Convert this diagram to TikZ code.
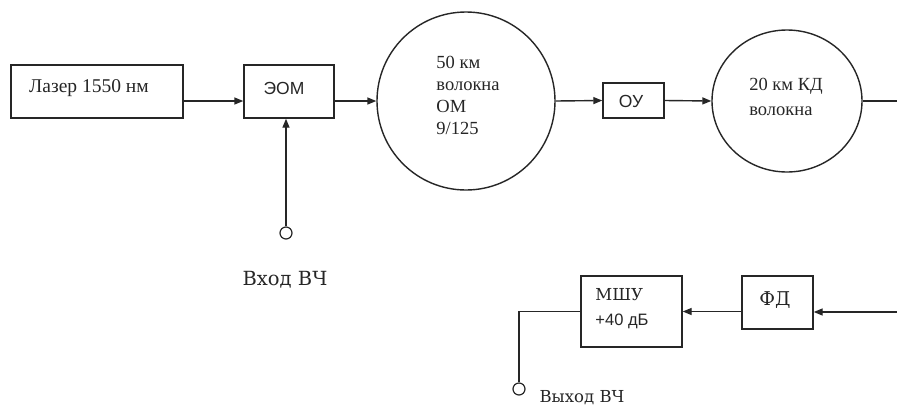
\documentclass[tikz,border=0pt]{standalone}
\usepackage{fontspec}
\setmainfont{Liberation Serif}
\newfontfamily\arialf{Liberation Sans}
\newfontfamily\slabf{DejaVu Serif}
\usetikzlibrary{arrows.meta,shapes.geometric}
\definecolor{ink}{HTML}{262626}
\begin{document}
\begin{tikzpicture}[x=1pt,y=-1pt,
  line width=1.4pt, draw=ink,
  box/.style={draw=ink,rectangle,inner sep=0pt},
  txt/.style={inner sep=0pt,text=ink},
  arr/.style={-{Triangle[length=9pt,width=7pt]}},
  port/.style={draw=ink,circle,minimum size=12pt,inner sep=0pt,line width=1.2pt}]
\useasboundingbox (0,0) rectangle (897,408);
\fill[white] (0,0) rectangle (897,408);
\coordinate (m) at (0,101);
% top row
\node[box,minimum width=172pt,minimum height=53pt] (laser) at (97,91.5) {};
\node[txt,font=\fontsize{19.5}{22}\selectfont] (laserT) at (89,88) {Лазер 1550 нм};
\node[box,minimum width=90pt,minimum height=53pt] (eom) at (289,91.5) {};
\node[txt,font=\arialf\fontsize{17.5}{20}\selectfont] (eomT) at (284,88) {ЭОМ};
\node[draw=ink,circle,minimum size=178pt,inner sep=0pt] (c1) at (466,101) {};
\node[txt,align=left,font=\fontsize{18.5}{22}\selectfont] (c1T) at (468,95) {50 км\\волокна\\ОМ\\9/125};
\node[box,minimum width=61pt,minimum height=35pt] (ou) at (633.5,100.5) {};
\node[txt,font=\arialf\fontsize{17.5}{20}\selectfont] (ouT) at (631,101) {ОУ};
\node[draw=ink,ellipse,minimum width=150pt,minimum height=142pt,inner sep=0pt] (c2) at (787,101) {};
\node[txt,align=left,font=\fontsize{18.5}{25}\selectfont] (c2T) at (786,97) {20 км КД\\волокна};
\coordinate (rout) at (897,101);
% input
\node[port] (inc) at (286,233) {};
\node[txt,font=\slabf\fontsize{19.5}{24}\selectfont] (inT) at (285,280) {Вход ВЧ};
% bottom row
\node[box,minimum width=101pt,minimum height=71pt] (mshu) at (631.5,311.5) {};
\node[txt,align=left,font=\slabf\fontsize{16.5}{25}\selectfont] (mshuT) at (622,309) {МШУ\\{\arialf\fontsize{16.5}{20}\selectfont +40 дБ}};
\node[box,minimum width=71pt,minimum height=53pt] (fd) at (777.5,302.5) {};
\node[txt,font=\slabf\fontsize{19}{24}\selectfont] (fdT) at (775,300) {ФД};
\coordinate (rin) at (897,312);
\node[port] (outc) at (519,389) {};
\node[txt,font=\slabf\fontsize{16.5}{20}\selectfont] (outT) at (582,398) {Выход ВЧ};
% connectors
\draw[arr] (laser.east |- m) -- (eom.west |- m);
\draw[arr] (eom.east |- m) -- (c1.west);
\draw[arr] (c1.east) -- (ou.west);
\draw[arr] (ou.east) -- (c2.west);
\draw (c2.east) -- (rout);
\draw[arr] (inc.north) -- (inc.north |- eom.south);
\draw[arr] (rin) -- (rin -| fd.east);
\draw[arr] (fd.west |- mshu.east) -- (mshu.east);
\draw (mshu.west) -| (outc.north);
\end{tikzpicture}
\end{document}
